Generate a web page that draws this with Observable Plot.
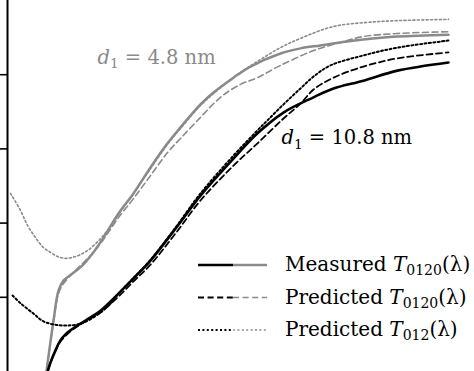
<!DOCTYPE html>
<html>
<head>
<meta charset="utf-8">
<script src="https://cdn.jsdelivr.net/npm/d3@7"></script>
<script src="https://cdn.jsdelivr.net/npm/@observablehq/plot@0.6"></script>
<style>
  html, body { margin: 0; padding: 0; background: #fff; }
  #wrap { position: relative; width: 474px; height: 371px; overflow: hidden; }
  #legend { position: absolute; left: 0; top: 0; pointer-events: none; }
</style>
</head>
<body>
<div id="wrap"></div>
<script>
// ---- data (wavelength λ in nm, transmission T in %) ----
const yTicks = [20, 40, 60, 80];

// d1 = 4.8 nm
const lamMeas48 = [338, 346, 351, 356, 365, 375, 385, 396, 411, 426, 443, 460, 473, 493, 506, 526, 543, 573, 593, 613, 633, 656, 690, 741];
const tMeas48   = [-1.9, 13.7, 21.8, 24.5, 26.4, 28.6, 31.8, 36.1, 42.6, 48.0, 55.0, 61.5, 65.8, 72.0, 75.2, 79.2, 82.2, 85.7, 87.1, 87.9, 88.7, 89.5, 90.3, 90.8];

const lamPred0120_48 = [338, 346, 351, 356, 365, 375, 385, 396, 411, 426, 443, 460, 473, 493, 513, 533, 550, 573, 606, 633, 656, 690, 741];
const tPred0120_48   = [-1.9, 13.2, 21.0, 23.7, 26.4, 29.1, 31.8, 35.6, 41.5, 46.6, 52.8, 59.0, 62.8, 68.5, 73.9, 77.4, 79.2, 82.5, 86.5, 88.7, 90.3, 91.1, 91.6];

const lamPred012_48 = [303, 313, 320, 328, 336, 343, 350, 358, 368, 380, 393, 403, 411, 426, 443, 460, 473, 493, 513, 533, 553, 573, 593, 626, 660, 693, 741];
const tPred012_48   = [48.0, 43.4, 39.4, 36.1, 33.4, 32.1, 31.0, 30.5, 31.0, 32.6, 35.8, 39.1, 42.3, 48.0, 54.7, 61.2, 65.5, 71.7, 76.5, 80.6, 84.1, 87.3, 89.8, 93.0, 94.1, 94.6, 94.9];

// d1 = 10.8 nm
const lamMeas108 = [338, 343, 348, 353, 358, 363, 373, 383, 393, 411, 426, 443, 468, 493, 526, 550, 576, 606, 626, 656, 690, 741];
const tMeas108   = [-1.9, 2.4, 5.7, 8.4, 10.0, 11.1, 12.9, 14.6, 16.4, 21.0, 25.1, 29.9, 38.5, 47.4, 57.4, 64.2, 69.8, 73.9, 76.3, 78.4, 81.1, 83.3];

const lamPred0120_108 = [338, 343, 348, 353, 363, 373, 383, 393, 411, 426, 443, 468, 493, 526, 550, 576, 593, 606, 626, 656, 690, 741];
const tPred0120_108   = [-1.9, 2.4, 5.7, 8.1, 10.8, 12.7, 14.3, 15.9, 20.2, 24.3, 28.8, 37.2, 46.1, 55.5, 61.5, 68.2, 72.2, 76.0, 79.2, 82.2, 84.4, 86.0];

const lamPred012_108 = [305, 313, 326, 336, 348, 358, 368, 378, 393, 403, 411, 426, 443, 468, 493, 526, 550, 560, 576, 593, 606, 623, 656, 690, 741];
const tPred012_108   = [20.5, 18.4, 15.6, 13.5, 12.6, 12.4, 12.6, 13.4, 15.9, 18.3, 21.0, 25.2, 30.1, 38.8, 48.0, 58.2, 65.0, 67.7, 72.0, 76.3, 79.5, 82.5, 85.2, 87.3, 89.2];

const annotations = [
  {lam: 390, T: 83.0, thickness: "4.8", color: "#8a8a8a"},
  {lam: 574, T: 61.2, thickness: "10.8", color: "#000"}
];

const legendLabels = ["Measured", "Predicted", "Predicted"];
const legendSubs = ["0120", "0120", "012"];

// ---- styles ----
const GRAY = "#8a8a8a";
const BLACK = "#000";
const DASH = "6,3.6";
const DOT = "2,2.4";

const series = [
  {lam: lamPred012_48, T: tPred012_48, stroke: GRAY, width: 1.6, dash: DOT},
  {lam: lamPred0120_48, T: tPred0120_48, stroke: GRAY, width: 1.6, dash: DASH},
  {lam: lamMeas48, T: tMeas48, stroke: GRAY, width: 2.5, dash: null},
  {lam: lamPred012_108, T: tPred012_108, stroke: BLACK, width: 2, dash: DOT},
  {lam: lamPred0120_108, T: tPred0120_108, stroke: BLACK, width: 1.8, dash: DASH},
  {lam: lamMeas108, T: tMeas108, stroke: BLACK, width: 2.6, dash: null}
];

const lineMarks = series.map(s => Plot.line(
  s.lam.map((l, i) => ({lam: l, T: s.T[i]})),
  {x: "lam", y: "T", stroke: s.stroke, strokeWidth: s.width,
   strokeDasharray: s.dash || undefined, curve: "catmull-rom", clip: true}
));

const xDomain = [300, 767];

const chart = Plot.plot({
  width: 474, height: 371,
  marginLeft: 7, marginRight: 0, marginTop: 0, marginBottom: 0,
  style: {background: "#fff", overflow: "hidden"},
  x: {domain: xDomain, axis: null},
  y: {domain: [0, 100], axis: null},
  marks: [
    Plot.axisY({ticks: yTicks, tickSize: 7, tickFormat: () => "", label: null, strokeWidth: 1.6}),
    Plot.ruleX([xDomain[0]], {stroke: "#000", strokeWidth: 2}),
    ...lineMarks,
    Plot.text(annotations, {
      x: "lam", y: "T", text: d => `d1 = ${d.thickness} nm`,
      fill: "color", textAnchor: "start", lineAnchor: "bottom",
      fontFamily: "DejaVu Serif", fontSize: 19.5, className: "annot"
    })
  ]
});

// rich text for annotations: italic d with subscript 1
d3.select(chart).selectAll("g.annot text").each(function() {
  const t = d3.select(this);
  const txt = t.text();
  const m = txt.match(/^d1 = (.*)$/);
  if (!m) return;
  t.text(null);
  t.append("tspan").attr("font-style", "italic").text("d");
  t.append("tspan").attr("font-size", "0.7em").attr("dy", "0.3em").text("1");
  t.append("tspan").attr("dy", "-0.21em").text(" = " + m[1]);
});

const wrap = document.getElementById("wrap");
wrap.appendChild(chart);

// ---- legend overlay ----
const leg = d3.select(wrap).append("svg").attr("id", "legend")
  .attr("width", 474).attr("height", 371);
const dashes = [null, DASH, DOT];
const blackW = [2.6, 1.8, 2];
const grayW = [2.5, 1.6, 1.6];
legendLabels.forEach((lab, i) => {
  const yLine = 265 + i * 32.5;
  const yBase = 271 + i * 32.5;
  leg.append("line").attr("x1", 198).attr("x2", 233).attr("y1", yLine).attr("y2", yLine)
    .attr("stroke", BLACK).attr("stroke-width", blackW[i]).attr("stroke-dasharray", dashes[i]);
  leg.append("line").attr("x1", 233).attr("x2", 267).attr("y1", yLine).attr("y2", yLine)
    .attr("stroke", GRAY).attr("stroke-width", grayW[i]).attr("stroke-dasharray", dashes[i]);
  const t = leg.append("text").attr("x", 285).attr("y", yBase)
    .attr("font-family", "DejaVu Serif").attr("font-size", 20).attr("fill", "#000");
  t.append("tspan").text(lab + " ");
  t.append("tspan").attr("font-style", "italic").text("T");
  t.append("tspan").attr("font-size", "0.7em").attr("dy", "0.3em").text(legendSubs[i]);
  t.append("tspan").attr("dy", "-0.21em").text("(λ)");
});
</script>
</body>
</html>
